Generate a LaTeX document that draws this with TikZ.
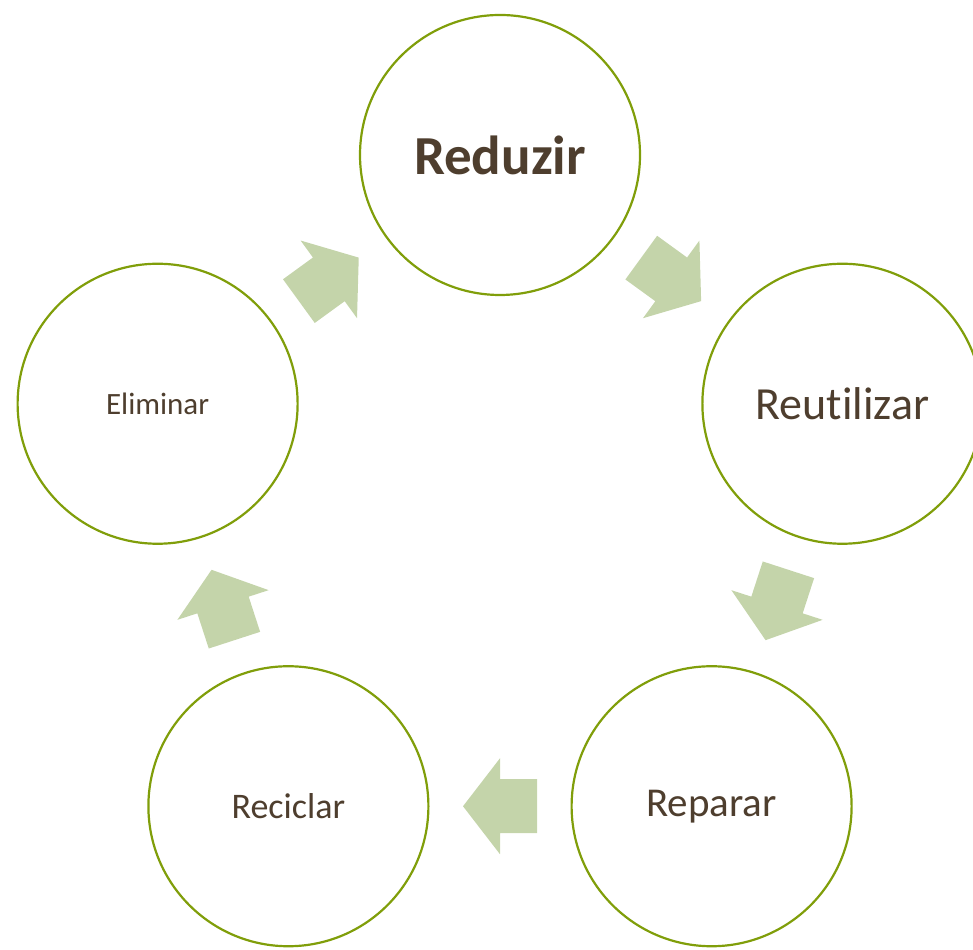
\documentclass[tikz,border=0pt]{standalone}
\usepackage{fontspec}
\setmainfont[Ligatures=NoCommon]{Carlito}
\usetikzlibrary{calc}
\definecolor{ringgreen}{RGB}{128,158,10}
\definecolor{arrowgreen}{RGB}{196,212,170}
\definecolor{textbrown}{RGB}{78,62,46}
\tikzset{
	ring/.style={circle, draw=ringgreen, line width=2.2pt, fill=white,
		minimum size=280pt, inner sep=0pt, text=textbrown},
	blockarrow/.style={fill=arrowgreen}
}
\begin{document}
\begin{tikzpicture}[x=1pt,y=1pt]
	% Fix the size of the picture
	\useasboundingbox (0,0) rectangle (973,949);
	
	% Draw the five circles round the centre
	\node[ring] (red) at ($(500,434)+(90:360)$) {\fontsize{55}{57}\selectfont\bfseries Reduzir};
	\node[ring] (reu) at ($(500,434)+(18:360)$) {\fontsize{46}{48}\selectfont Reutilizar};
	\node[ring] (rep) at ($(500,434)+(-54:360)$) {\fontsize{41}{43}\selectfont Reparar};
	\node[ring] (rec) at ($(500,434)+(-126:360)$) {\fontsize{36}{38}\selectfont Reciclar};
	\node[ring] (eli) at ($(500,434)+(162:360)$) {\fontsize{31}{33}\selectfont Eliminar};
	
	% Draw the block arrows between the circles
	\foreach \a/\b/\ang in {red/reu/-36, reu/rep/-108, rep/rec/180, rec/eli/108, eli/red/36}
		\fill[blockarrow, shift={($(\a.center)!0.5!(\b.center)$)}, rotate=\ang]
			(-37,27) -- (0,27) -- (0,48) -- (37,0) -- (0,-48) -- (0,-27) -- (-37,-27) -- cycle;
\end{tikzpicture}
\end{document}
